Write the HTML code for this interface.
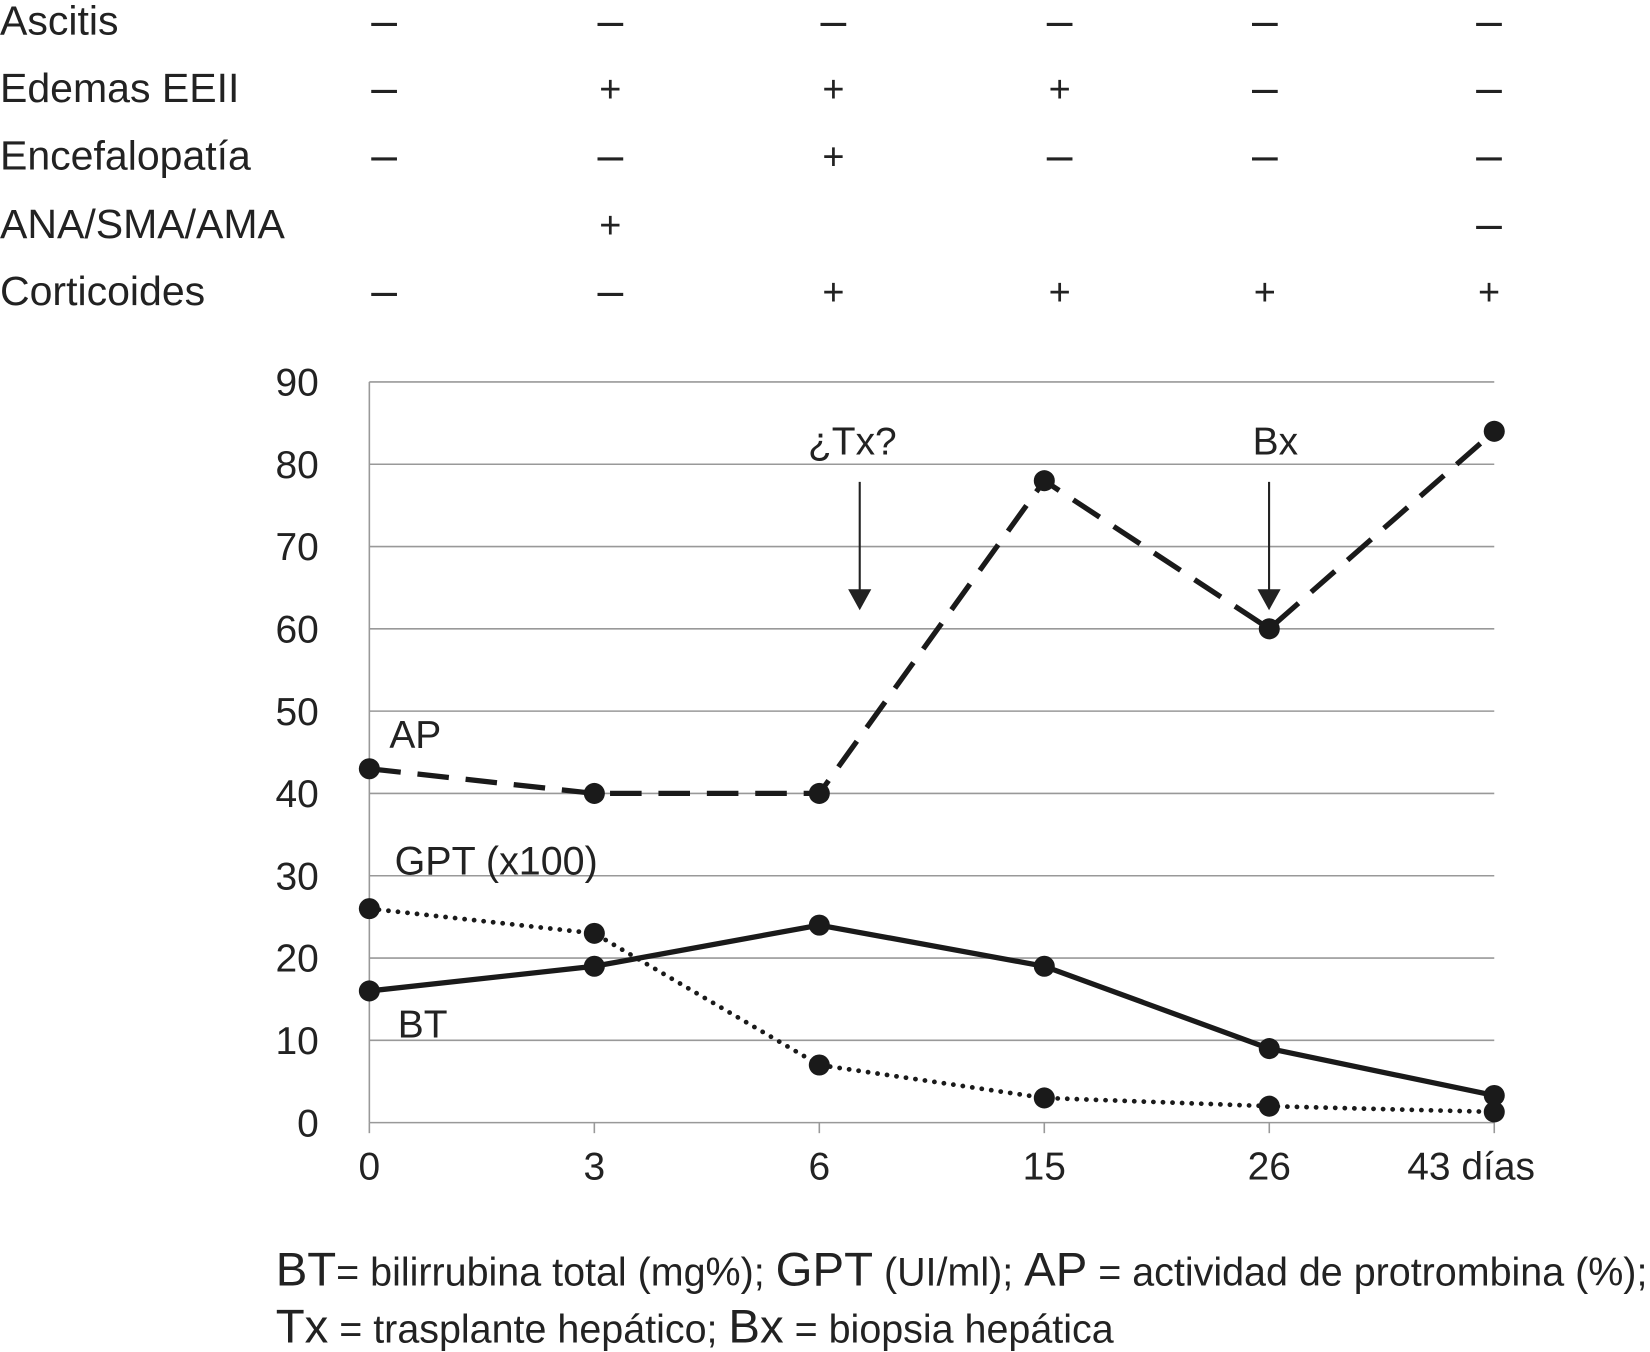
<!DOCTYPE html>
<html><head><meta charset="utf-8"><style>
html,body{margin:0;padding:0;background:#fff;}
svg{display:block;font-family:"Liberation Sans",Arial,sans-serif;}
</style></head><body>
<svg id="chart" width="1650" height="1352" viewBox="0 0 1568 1285" preserveAspectRatio="none" xmlns="http://www.w3.org/2000/svg">
<g id="table"></g>
<g id="grid"></g>
<g id="series"></g>
<g id="ann">
<text x="810" y="432" font-size="37" text-anchor="middle" fill="#222">¿Tx?</text>
<line x1="817" y1="458" x2="817" y2="562" stroke="#222" stroke-width="2"/>
<polygon points="806,560 828,560 817,580" fill="#222"/>
<text x="1212" y="432" font-size="37" text-anchor="middle" fill="#222">Bx</text>
<line x1="1206" y1="458" x2="1206" y2="562" stroke="#222" stroke-width="2"/>
<polygon points="1195,560 1217,560 1206,580" fill="#222"/>
<text x="370" y="711" font-size="37" fill="#222">AP</text>
<text x="375" y="831" font-size="37.5" fill="#222">GPT (x100)</text>
<text x="378" y="986" font-size="37" fill="#222">BT</text>
</g>
<g fill="#222">
<text x="262" y="1222" font-size="37.5"><tspan font-size="45">BT</tspan>= bilirrubina total (mg%); <tspan font-size="45">GPT</tspan> (UI/ml); <tspan font-size="45">AP</tspan> = actividad de protrombina (%);</text>
<text x="262" y="1276" font-size="37.5"><tspan font-size="45">Tx</tspan> = trasplante hepático; <tspan font-size="45">Bx</tspan> = biopsia hepática</text>
</g>
</svg>
<script>
const categories = ["0","3","6","15","26","43 días"];
const apValues = [43,40,40,78,60,84];
const gptValues = [26,23,7,3,2,1.3];
const btValues = [16,19,24,19,9,3.3];
const yTicks = [0,10,20,30,40,50,60,70,80,90];
const rowLabels = ["Ascitis","Edemas EEII","Encefalopatía","ANA/SMA/AMA","Corticoides"];
const rowAscitis = ["–","–","–","–","–","–"];
const rowEdemas = ["–","+","+","+","–","–"];
const rowEncef = ["–","–","+","–","–","–"];
const rowAna = ["","+","","","","–"];
const rowCort = ["–","–","+","+","+","+"];

const NS="http://www.w3.org/2000/svg";
const X0=351, XW=(1420-351)/5, Y0=1067, YT=363;
const xPos=i=>X0+i*XW;
const yPos=v=>Y0-(v/90)*(Y0-YT);
function mk(tag,attrs,parent){const e=document.createElementNS(NS,tag);for(const k in attrs)e.setAttribute(k,attrs[k]);parent.appendChild(e);return e;}

const table=document.getElementById('table');
const rows=[rowAscitis,rowEdemas,rowEncef,rowAna,rowCort];
const rowY=[33,97,161,226,290];
const colX=[365,580,792,1007,1202,1415];
rowLabels.forEach((lab,r)=>{
  const t=mk('text',{x:0,y:rowY[r],'font-size':39,fill:'#222'},table);
  
  
  t.textContent=lab;
  rows[r].forEach((s,c)=>{
    if(!s)return;
    const t2=mk('text',{x:colX[c],y:rowY[r]+(s==='–'?1:0),'font-size':s==='–'?44:36,'text-anchor':'middle',fill:'#222'},table);
    
    
    t2.textContent=s;
  });
});

const grid=document.getElementById('grid');
yTicks.forEach(v=>{
  const y=yPos(v);
  if(v>0){const l=mk('line',{x1:X0,x2:1420,y1:y,y2:y,stroke:'#999','stroke-width':1.5},grid);
  
  }
  const t=mk('text',{x:303,y:y+13,'font-size':37,'text-anchor':'end',fill:'#222'},grid);
  
  
  t.textContent=v;
});
const ax=mk('line',{x1:X0,x2:X0,y1:YT,y2:Y0,stroke:'#999','stroke-width':1.5},grid);


const xa=mk('line',{x1:X0,x2:1420,y1:Y0,y2:Y0,stroke:'#999','stroke-width':1.5},grid);


categories.forEach((c,i)=>{
  const tk=mk('line',{x1:xPos(i),x2:xPos(i),y1:Y0,y2:Y0+10,stroke:'#999','stroke-width':1.5},grid);
  
  
  const t=mk('text',{x:i===5?xPos(i)-22:xPos(i),y:Y0+54,'font-size':37,'text-anchor':'middle',fill:'#222'},grid);
  
  
  t.textContent=c;
});

const ser=document.getElementById('series');
function drawSeries(vals,name,dash,width,cap){
  const pts=vals.map((v,i)=>xPos(i)+','+yPos(v)).join(' ');
  const pl=mk('polyline',{points:pts,fill:'none',stroke:'#1a1a1a','stroke-width':width,'stroke-dasharray':dash,'stroke-linecap':cap},ser);
  
  
  vals.forEach((v,i)=>{
    const c=mk('circle',{cx:xPos(i),cy:yPos(v),r:10,fill:'#1a1a1a'},ser);
    
    
  });
}
drawSeries(apValues,'ap','30 16',5,'butt');
drawSeries(gptValues,'gpt','0.1 9',4.5,'round');
drawSeries(btValues,'bt','none',5,'butt');
</script>
</body></html>
